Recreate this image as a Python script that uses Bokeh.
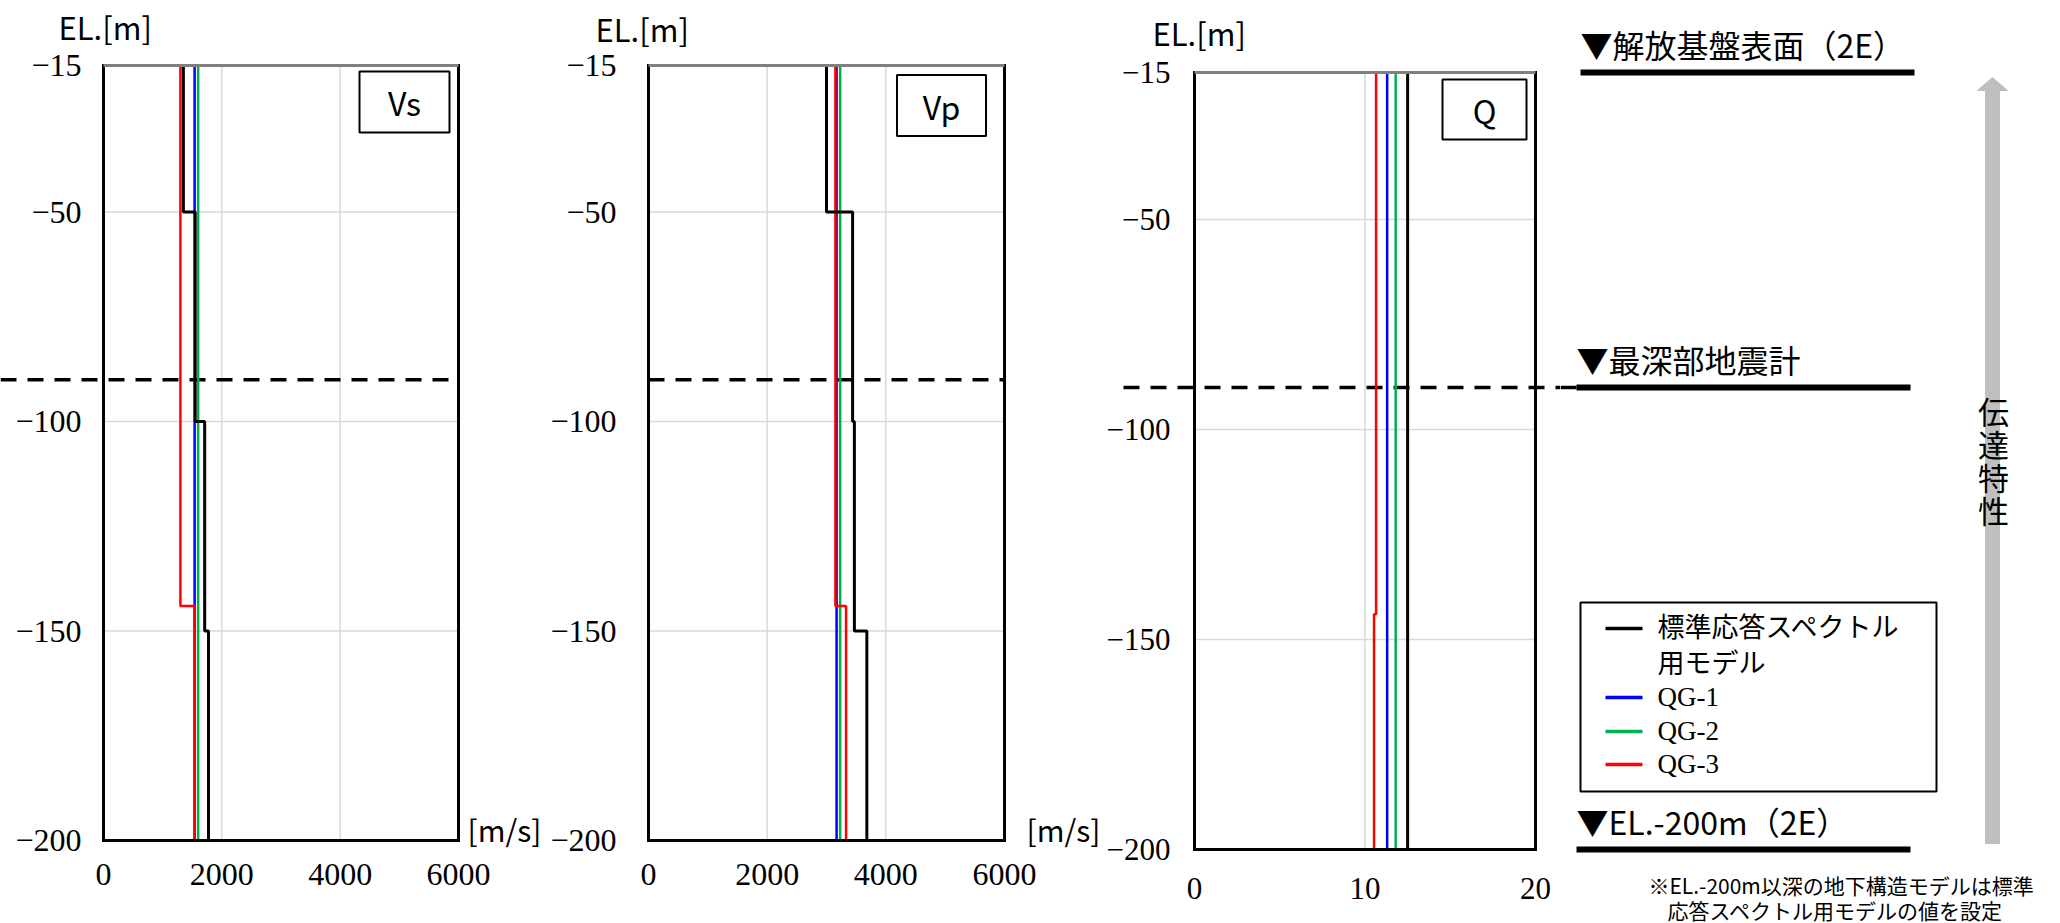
from bokeh.plotting import figure
from bokeh.layouts import row
from bokeh.models import Range1d, FixedTicker
from bokeh.core.properties import value
from bokeh.embed import file_html
from bokeh.resources import INLINE

# ---------------- data ----------------
std_bounds = [-15, -50, -100, -150, -200]      # layer boundaries, standard model (EL. m)
qg_bounds = [-15, -144, -200]                  # layer boundaries, QG models (EL. m)

std_vs = [1350, 1550, 1710, 1775]
qg1_vs = [1540, 1540]
qg2_vs = [1600, 1600]
qg3_vs = [1300, 1540]

std_vp = [3000, 3440, 3470, 3680]
qg1_vp = [3170, 3170]
qg2_vp = [3230, 3230]
qg3_vp = [3150, 3330]

std_q = [12.5, 12.5, 12.5, 12.5]
qg1_q = [11.3, 11.3]
qg2_q = [11.8, 11.8]
qg3_q = [10.65, 10.53]

series_names = ["標準応答スペクトル\n用モデル", "QG-1", "QG-2", "QG-3"]
series_colors = ["#000000", "#0000ff", "#00b050", "#ff0000"]

el_ticks = [-200, -150, -100, -50, -15]
v_ticks = [0, 2000, 4000, 6000]
q_ticks = [0, 10, 20]
seismometer_el = -90
level_els = [-15, -90, -200]
level_labels = ["▼解放基盤表面（2E）", "▼最深部地震計", "▼EL.-200m（2E）"]
note_lines = ["※EL.-200m以深の地下構造モデルは標準", "応答スペクトル用モデルの値を設定"]
transfer_label = "伝達特性"

# ---------------- layout constants (page px) ----------------
FIG_H = 923
TOP = 0
JP = "Noto Sans CJK JP"
SERIF = "Liberation Serif"
GRID = "#d9d9d9"


def profile(bounds, vals):
    xs, ys = [], []
    for i, v in enumerate(vals):
        xs += [v, v]
        ys += [bounds[i], bounds[i + 1]]
    return xs, ys


def to_data(g, px, py):
    xd = g["xr"][0] + (px - g["fl"]) / (g["fr"] - g["fl"]) * (g["xr"][1] - g["xr"][0])
    yd = -15 - (py - g["ft"]) / (g["fb"] - g["ft"]) * 185
    return xd, yd


def make_panel(g, name, std, qgs, xticks):
    x_lo, y_hi = to_data(g, g["x0"], TOP)
    x_hi, y_lo = to_data(g, g["x0"] + g["w"], TOP + FIG_H)
    xr0, xr1 = g["xr"]
    p = figure(width=g["w"], height=FIG_H,
               x_range=Range1d(x_lo, x_hi), y_range=Range1d(y_lo, y_hi),
               min_border=0, min_border_left=0, min_border_right=0,
               min_border_top=0, min_border_bottom=0,
               toolbar_location=None, output_backend="svg")
    p.grid.visible = False
    p.outline_line_color = None
    p.background_fill_color = "white"

    # axes drawn on the plot-area edges
    p.xaxis.fixed_location = -200
    p.yaxis.fixed_location = xr0
    p.xaxis.ticker = FixedTicker(ticks=xticks)
    p.yaxis.ticker = FixedTicker(ticks=el_ticks)
    p.axis.axis_line_color = None
    p.axis.major_tick_line_color = None
    p.axis.minor_tick_line_color = None
    p.axis.major_tick_out = 0
    p.axis.major_tick_in = 0
    p.axis.major_label_text_font = SERIF
    p.axis.major_label_text_font_size = g["fs"]
    p.axis.major_label_text_color = "black"
    p.yaxis.major_label_standoff = g["ystand"]
    p.xaxis.major_label_standoff = g["xstand"]

    # gridlines
    inner_x = xticks[1:-1]
    inner_y = el_ticks[1:-1]
    p.segment(x0=inner_x, x1=inner_x, y0=[-200] * len(inner_x), y1=[-15] * len(inner_x),
              line_color=GRID, line_width=1.5)
    p.segment(x0=[xr0] * len(inner_y), x1=[xr1] * len(inner_y), y0=inner_y, y1=inner_y,
              line_color=GRID, line_width=1.5)

    # deepest seismometer level (dashed)
    dx0, _ = to_data(g, g["dash"][0], 0)
    dx1, _ = to_data(g, g["dash"][1], 0)
    p.segment(x0=[dx0], x1=[dx1], y0=[seismometer_el], y1=[seismometer_el],
              line_color="black", line_width=3.5, line_dash="16 11")

    # QG models (blue, green, red), then standard model on top
    for vals, col in zip(qgs, series_colors[1:]):
        xs, ys = profile(qg_bounds, vals)
        p.line(xs, ys, line_color=col, line_width=2.5)
    xs, ys = profile(std_bounds, std)
    p.line(xs, ys, line_color=series_colors[0], line_width=3)

    # plot-area frame: black left/right/bottom, grey top
    p.segment(x0=[xr0, xr1, xr0], x1=[xr0, xr1, xr1], y0=[-200, -200, -200], y1=[-15, -15, -200],
              line_color="black", line_width=3, line_cap="square")
    p.segment(x0=[xr0], x1=[xr1], y0=[-15], y1=[-15], line_color="#808080", line_width=3)

    # panel name box
    bx, by = to_data(g, *g["box"][:2])
    p.rect(x=[bx], y=[by], width=g["box"][2], height=g["box"][3],
           width_units="screen", height_units="screen",
           fill_color="white", line_color="black", line_width=2)
    p.text(x=[bx], y=[by], text=[name], text_align="center", text_baseline="middle",
           text_font=value(JP), text_font_size="32px", text_color="black")

    # axis captions
    ex, ey = to_data(g, *g["el"])
    p.text(x=[ex], y=[ey], text=["EL.[m]"], text_font=value(JP), text_font_size="31px",
           text_align="left", text_baseline="middle", text_color="black")
    if g.get("unit") is not None:
        ux, uy = to_data(g, *g["unit"])
        p.text(x=[ux], y=[uy], text=["[m/s]"], text_font=value(JP), text_font_size="30px",
               text_align="left", text_baseline="middle", text_color="black")
    return p


G1 = dict(x0=0, w=545, fl=103, fr=458, ft=65, fb=840, ystand=22, xstand=23, fs="32px",
          xr=(0, 6000), box=(404, 101.5, 90, 61), el=(58, 26), unit=(467, 828), dash=(0, 458))
G2 = dict(x0=545, w=558, fl=648, fr=1004, ft=65, fb=840, ystand=32, xstand=23, fs="32px",
          xr=(0, 6000), box=(941, 105, 89, 61), el=(595, 28), unit=(1026, 828), dash=(648, 1004))
G3 = dict(x0=1103, w=457, fl=1194, fr=1535, ft=72, fb=849, ystand=24, xstand=28, fs="31px",
          xr=(0, 20), box=(1484, 109, 84, 60), el=(1152, 32), unit=None, dash=(1123, 1560))

p1 = make_panel(G1, "Vs", std_vs, [qg1_vs, qg2_vs, qg3_vs], v_ticks)
p2 = make_panel(G2, "Vp", std_vp, [qg1_vp, qg2_vp, qg3_vp], v_ticks)
p3 = make_panel(G3, "Q", std_q, [qg1_q, qg2_q, qg3_q], q_ticks)

# ---------------- right-hand annotation panel ----------------
X0 = G3["x0"] + G3["w"]
W4 = 2060 - X0
el_top = -15 + (G3["ft"] - TOP) / (G3["fb"] - G3["ft"]) * 185
el_bot = -200 - (TOP + FIG_H - G3["fb"]) / (G3["fb"] - G3["ft"]) * 185
p4 = figure(width=W4, height=FIG_H, x_range=Range1d(X0, X0 + W4), y_range=Range1d(el_bot, el_top),
            min_border=0, min_border_left=0, min_border_right=0, min_border_top=0, min_border_bottom=0,
            x_axis_location=None, y_axis_location=None,
            toolbar_location=None, output_backend="svg")
p4.extra_y_ranges = {"px": Range1d(TOP + FIG_H, TOP)}
p4.grid.visible = False
p4.outline_line_color = None

# elevation markers
lvl_x0 = [1580, 1576, 1576]
lvl_x1 = [1914, 1910, 1910]
p4.segment(x0=lvl_x0, x1=lvl_x1, y0=level_els, y1=level_els, line_color="black", line_width=6)
p4.text(x=lvl_x0, y=level_els, text=level_labels, text_baseline="bottom", y_offset=-6,
        text_font=value(JP), text_font_size="32px", text_color="black")
# continuation of the dashed seismometer line
p4.segment(x0=[X0], x1=[1576], y0=[seismometer_el], y1=[seismometer_el],
           line_color="black", line_width=3.5, line_dash="16 11")

# legend
p4.quad(left=[1580], right=[1936], top=[602], bottom=[791], y_range_name="px",
        fill_color="white", line_color="black", line_width=2)
leg_y = [628, 697, 731, 764]
p4.segment(x0=[1605] * 4, x1=[1642] * 4, y0=leg_y, y1=leg_y, y_range_name="px",
           line_color=series_colors, line_width=3.5)
p4.text(x=[1657] * 4, y=[yy - 16 for yy in leg_y], text=series_names, y_range_name="px",
        text_baseline="top", text_line_height=1.2,
        text_font=value("Liberation Serif, Noto Sans CJK JP"), text_font_size="27px",
        text_color="black")

# transfer characteristic arrow
ax = [1985, 1985, 1977, 1992, 2007, 1999, 1999]
ay = [843, 90, 90, 77, 90, 90, 843]
p4.patch(x=ax, y=ay, y_range_name="px", fill_color="#bfbfbf", line_color="#bfbfbf")
p4.text(x=[1993] * 4, y=[410 + 33 * i for i in range(4)], text=list(transfer_label),
        y_range_name="px", text_align="center", text_baseline="middle",
        text_font=value(JP), text_font_size="31px", text_color="black")

# footnote
p4.text(x=[1648, 1667], y=[884, 909], text=note_lines, y_range_name="px",
        text_baseline="middle", text_font=value(JP), text_font_size="21px", text_color="black")

layout = row(p1, p2, p3, p4)
open("out.html", "w").write(file_html(layout, INLINE))
